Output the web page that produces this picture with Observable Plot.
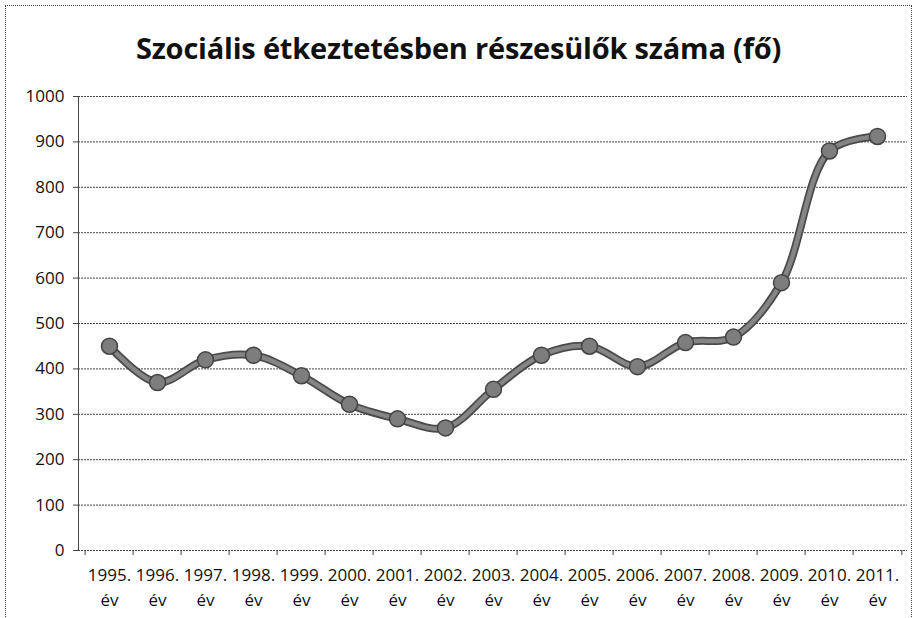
<!DOCTYPE html>
<html>
<head>
<meta charset="utf-8">
<script src="https://cdn.jsdelivr.net/npm/d3@7"></script>
<script src="https://cdn.jsdelivr.net/npm/@observablehq/plot@0.6"></script>
<style>
  html, body { margin: 0; padding: 0; background: #fff; }
  #frame {
    position: absolute; left: 5px; top: 5px; width: 905px; height: 620px;
    border: 1px dotted #444; background: #fff;
    font-family: "Open Sans", "Noto Sans", sans-serif;
  }
  #title {
    height: 70px; line-height: 84px; text-align: center;
    font-size: 29px; font-weight: 700; color: #111; letter-spacing: -0.2px;
  }
</style>
</head>
<body>
<div id="frame">
  <div id="title">Szociális étkeztetésben részesülők száma (fő)</div>
  <div id="chart"></div>
</div>
<script>
const years = ["1995.", "1996.", "1997.", "1998.", "1999.", "2000.", "2001.", "2002.", "2003.",
               "2004.", "2005.", "2006.", "2007.", "2008.", "2009.", "2010.", "2011."];
const unit = "év";
const values = [450, 370, 420, 430, 385, 322, 290, 270, 355, 430, 450, 405, 458, 470, 590, 880, 912];
const yTicks = [0, 100, 200, 300, 400, 500, 600, 700, 800, 900, 1000];

const labels = years.map(y => y + "\n" + unit);
const data = labels.map((l, i) => ({ cat: l, value: values[i] }));

const W = 905, mL = 72, mR = 4;
const bw = (W - mL - mR) / labels.length;

const chart = Plot.plot({
  width: W,
  height: 540,
  marginLeft: mL,
  marginRight: mR,
  marginTop: 20,
  marginBottom: 66,
  style: { fontFamily: "'Open Sans', 'Noto Sans', sans-serif", fontSize: "16px", color: "#111", background: "transparent" },
  x: { type: "band", domain: labels, padding: 0, axis: null, label: null },
  y: { domain: [0, 1000], axis: null, label: null },
  marks: [
    Plot.gridY(yTicks, { stroke: "#444", strokeOpacity: 1, strokeWidth: 1, strokeDasharray: "2,1" }),
    Plot.frame({ anchor: "left", stroke: "#444", strokeDasharray: "2,1" }),
    Plot.axisY(yTicks, { label: null, tickSize: 5, tickPadding: 9, fontSize: 17, stroke: "#444", fill: "#111", tickFormat: d => String(d) }),
    Plot.axisX({ label: null, tickSize: 0, tickPadding: 13, fontSize: 17, lineHeight: 1.45, fill: "#111" }),
    Plot.axisX({ label: null, tickSize: 5, tickFormat: () => "", stroke: "#444", dx: -bw / 2 }),
    Plot.axisX([labels[labels.length - 1]], { label: null, tickSize: 5, tickFormat: () => "", stroke: "#444", dx: bw / 2 }),
    Plot.line(data, { x: "cat", y: "value", stroke: "#4a4a4a", strokeWidth: 8, curve: "catmull-rom" }),
    Plot.line(data, { x: "cat", y: "value", stroke: "#858585", strokeWidth: 4.5, curve: "catmull-rom" }),
    Plot.dot(data, { x: "cat", y: "value", r: 8, fill: "#7d7d7d", stroke: "#444", strokeWidth: 1.5 })
  ]
});
document.getElementById("chart").appendChild(chart);
</script>
</body>
</html>
